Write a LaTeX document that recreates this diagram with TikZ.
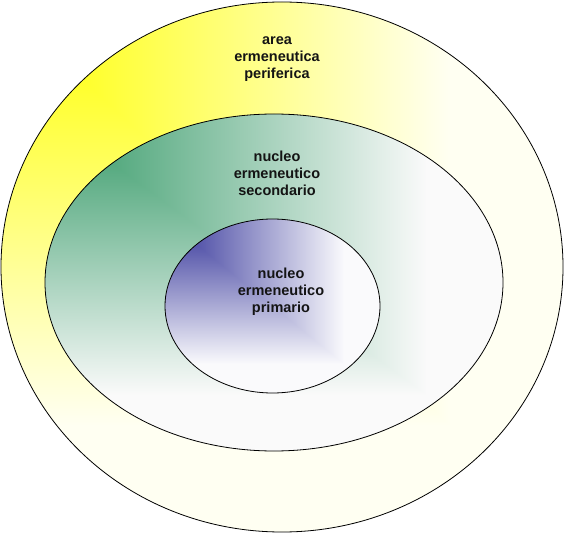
\documentclass[tikz,border=0pt]{standalone}
\usepackage{fontspec}
\setmainfont{Liberation Sans}
\usetikzlibrary{shapes.geometric}
% corner gradient: t = max of distance from top-left corner of bbox
\pgfdeclarefunctionalshading{yellowcorner}{\pgfpoint{0bp}{0bp}}{\pgfpoint{100bp}{100bp}}{}{
  75 exch sub exch 25 sub 2 copy lt {exch} if pop 50 div 1.25 mul
  dup 0 lt {pop 0} if dup 1 gt {pop 1} if
  0.95 mul 1 1 3 -1 roll
}
\pgfdeclarefunctionalshading{greencorner}{\pgfpoint{0bp}{0bp}}{\pgfpoint{100bp}{100bp}}{}{
  75 exch sub exch 25 sub 2 copy lt {exch} if pop 50 div 1.2 mul
  dup 0 lt {pop 0} if dup 1 gt {pop 1} if
  dup 0.78 mul 0.2 add exch dup 0.38 mul 0.6 add exch 0.58 mul 0.4 add
}
\pgfdeclarefunctionalshading{bluecorner}{\pgfpoint{0bp}{0bp}}{\pgfpoint{100bp}{100bp}}{}{
  75 exch sub exch 25 sub 2 copy lt {exch} if pop 50 div 1.2 mul
  dup 0 lt {pop 0} if dup 1 gt {pop 1} if
  dup 0.78 mul 0.2 add exch dup 0.78 mul 0.2 add exch 0.39 mul 0.6 add
}
\tikzset{
  ring/.style={ellipse, draw=black, line width=0.8pt, inner sep=0pt},
  lbl/.style={align=center, text=black!92, font=\fontsize{14.5}{17}\selectfont\bfseries}
}
\begin{document}
\begin{tikzpicture}[x=1pt,y=-1pt]
\useasboundingbox (0,0) rectangle (564,534);
\node[ring, shading=yellowcorner, minimum width=562pt, minimum height=530pt] (outer) at (282,267) {};
\node[ring, shading=greencorner, minimum width=458pt, minimum height=337pt] (middle) at (274,282.5) {};
\node[ring, shading=bluecorner, minimum width=215pt, minimum height=174pt] (inner) at (272.5,306) {};
\node[lbl] (tarea) at (277,59) {area\\ermeneutica\\periferica};
\node[lbl] (tsec) at (277,173) {nucleo\\ermeneutico\\secondario};
\node[lbl] (tprim) at (281,292) {nucleo\\ermeneutico\\primario};
\end{tikzpicture}
\end{document}
